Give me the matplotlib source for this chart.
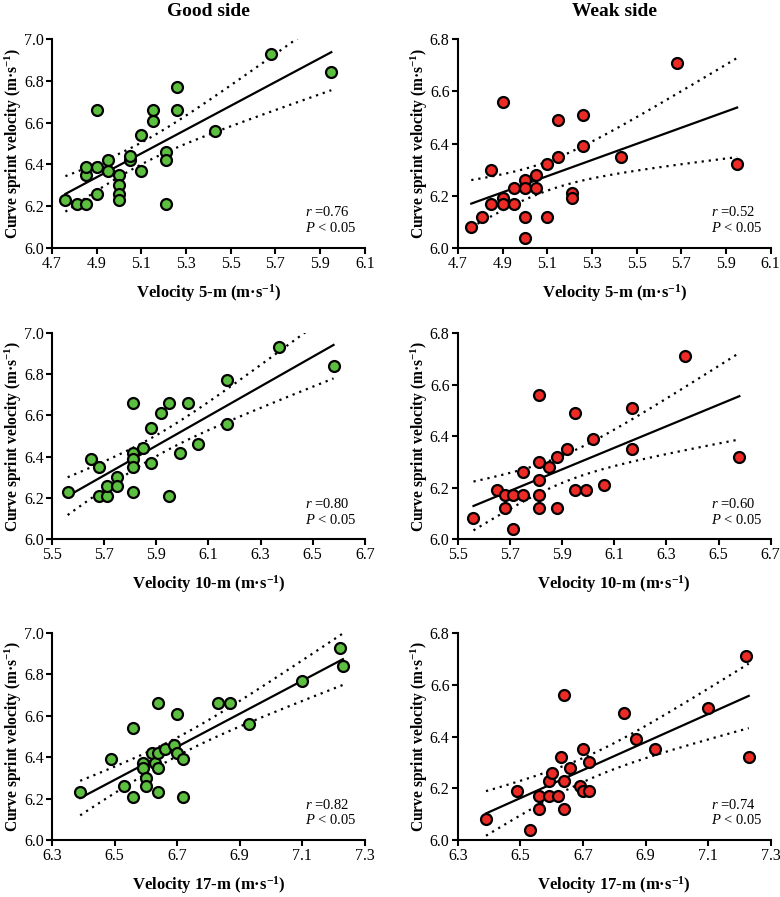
import numpy as np
import matplotlib
matplotlib.use("Agg")
import matplotlib.pyplot as plt

plt.rcParams['font.family'] = ['Liberation Serif', 'DejaVu Serif']
plt.rcParams['mathtext.fontset'] = 'custom'
plt.rcParams['mathtext.rm'] = 'Liberation Serif'
plt.rcParams['mathtext.it'] = 'Liberation Serif:italic'
plt.rcParams['mathtext.bf'] = 'Liberation Serif:bold'

GREEN = '#5cbf3f'
RED = '#ec2b26'
T95 = 2.06

# good side
good5_x = [4.76, 4.81, 4.85, 4.85, 4.85, 4.90, 4.90, 4.90, 4.95, 4.95, 5.00, 5.00, 5.00, 5.00,
           5.05, 5.05, 5.10, 5.10, 5.15, 5.15, 5.21, 5.21, 5.21, 5.26, 5.26, 5.43, 5.68, 5.95]
good5_y = [6.23, 6.21, 6.21, 6.35, 6.39, 6.26, 6.39, 6.66, 6.37, 6.42, 6.35, 6.30, 6.26, 6.23,
           6.42, 6.44, 6.37, 6.54, 6.66, 6.61, 6.46, 6.42, 6.21, 6.77, 6.66, 6.56, 6.93, 6.84]

good10_x = [5.56, 5.65, 5.68, 5.68, 5.71, 5.71, 5.75, 5.75, 5.81, 5.81, 5.81, 5.81, 5.81,
            5.85, 5.88, 5.88, 5.92, 5.95, 5.95, 5.99, 6.02, 6.06, 6.17, 6.17, 6.37, 6.58]
good10_y = [6.23, 6.39, 6.35, 6.21, 6.21, 6.26, 6.30, 6.26, 6.66, 6.42, 6.39, 6.35, 6.23,
            6.44, 6.54, 6.37, 6.61, 6.66, 6.21, 6.42, 6.66, 6.46, 6.77, 6.56, 6.93, 6.84]

good17_x = [6.39, 6.49, 6.53, 6.56, 6.56, 6.59, 6.59, 6.60, 6.60, 6.62, 6.63, 6.64, 6.64, 6.64,
            6.64, 6.66, 6.69, 6.70, 6.70, 6.72, 6.72, 6.83, 6.87, 6.93, 7.10, 7.22, 7.23]
good17_y = [6.23, 6.39, 6.26, 6.54, 6.21, 6.37, 6.35, 6.30, 6.26, 6.42, 6.37, 6.66, 6.42, 6.35,
            6.23, 6.44, 6.46, 6.61, 6.42, 6.39, 6.21, 6.66, 6.66, 6.56, 6.77, 6.93, 6.84]

# weak side
weak5_x = [4.76, 4.81, 4.85, 4.85, 4.90, 4.90, 4.90, 4.95, 4.95, 5.00, 5.00, 5.00, 5.00,
           5.05, 5.05, 5.10, 5.10, 5.15, 5.15, 5.21, 5.21, 5.26, 5.26, 5.43, 5.68, 5.95]
weak5_y = [6.08, 6.12, 6.30, 6.17, 6.56, 6.19, 6.17, 6.23, 6.17, 6.26, 6.23, 6.12, 6.04,
           6.28, 6.23, 6.32, 6.12, 6.49, 6.35, 6.21, 6.19, 6.51, 6.39, 6.35, 6.71, 6.32]

weak10_x = [5.56, 5.65, 5.68, 5.68, 5.71, 5.71, 5.75, 5.75, 5.81, 5.81, 5.81, 5.81, 5.81,
            5.85, 5.88, 5.88, 5.92, 5.95, 5.95, 5.99, 6.02, 6.06, 6.17, 6.17, 6.37, 6.58]
weak10_y = [6.08, 6.19, 6.17, 6.12, 6.17, 6.04, 6.26, 6.17, 6.56, 6.30, 6.23, 6.17, 6.12,
            6.28, 6.32, 6.12, 6.35, 6.49, 6.19, 6.19, 6.39, 6.21, 6.51, 6.35, 6.71, 6.32]

weak17_x = [6.39, 6.49, 6.53, 6.56, 6.56, 6.59, 6.59, 6.60, 6.62, 6.63, 6.64, 6.64, 6.64,
            6.66, 6.69, 6.70, 6.70, 6.72, 6.72, 6.83, 6.87, 6.93, 7.10, 7.22, 7.23]
weak17_y = [6.08, 6.19, 6.04, 6.17, 6.12, 6.23, 6.17, 6.26, 6.17, 6.32, 6.56, 6.23, 6.12,
            6.28, 6.21, 6.35, 6.19, 6.30, 6.19, 6.49, 6.39, 6.35, 6.51, 6.71, 6.32]

x_labels = ['5-m', '10-m', '17-m']
x_lims = [(4.7, 6.1), (5.5, 6.7), (6.3, 7.3)]
r_good = ['0.76', '0.80', '0.82']
r_weak = ['0.52', '0.60', '0.74']

fig = plt.figure(figsize=(7.8, 8.97), dpi=100)

# axes rectangles (figure fraction)
lefts = [0.0667, 0.587]
bottoms = [0.7235, 0.399, 0.0635]
heights = [0.233, 0.2297, 0.2308]
width = 0.401


def panel(ax, xs, ys, color, xlim, ylim, yticks, xlab, rtxt):
    xs = np.array(xs)
    ys = np.array(ys)
    b, a = np.polyfit(xs, ys, 1)
    xx = np.linspace(xs.min(), xs.max(), 100)
    yy = a + b * xx
    n = len(xs)
    resid = ys - (a + b * xs)
    s = np.sqrt(np.sum(resid ** 2) / (n - 2))
    sxx = np.sum((xs - xs.mean()) ** 2)
    ci = T95 * s * np.sqrt(1.0 / n + (xx - xs.mean()) ** 2 / sxx)
    ax.plot(xx, yy + ci, color='black', lw=1.6, ls=(0, (1, 2.2)), zorder=2)
    ax.plot(xx, yy - ci, color='black', lw=1.6, ls=(0, (1, 2.2)), zorder=2)
    ax.plot(xx, yy, color='black', lw=1.6, zorder=2)
    ax.scatter(xs, ys, s=62, color=color, edgecolor='black', linewidth=1.6, zorder=3, clip_on=False)

    ax.set_xlim(xlim)
    ax.set_ylim(ylim)
    ax.set_xticks(np.round(np.arange(xlim[0], xlim[1] + 0.01, 0.2), 1))
    ax.set_yticks(yticks)
    ax.set_xticklabels(['%.1f' % v for v in ax.get_xticks()])
    ax.set_yticklabels(['%.1f' % v for v in yticks])
    for sp in ['top', 'right']:
        ax.spines[sp].set_visible(False)
    for sp in ['left', 'bottom']:
        ax.spines[sp].set_linewidth(1.5)
    ax.tick_params(width=1.5, length=4, labelsize=11.5, pad=2)
    ax.set_xlabel('Velocity %s (m·s$^{\\mathbf{-1}}$)' % xlab, fontsize=12,
                  fontweight='bold', labelpad=7)
    ax.set_ylabel('Curve sprint velocity (m·s$^{\\mathbf{-1}}$)', fontsize=11.2,
                  fontweight='bold', labelpad=0)
    ax.text(0.81, 0.17, '$r$ =' + rtxt, transform=ax.transAxes, fontsize=10.5,
            ha='left', va='center')
    ax.text(0.81, 0.095, '$P$ < 0.05', transform=ax.transAxes, fontsize=10.5,
            ha='left', va='center')


good = [(good5_x, good5_y), (good10_x, good10_y), (good17_x, good17_y)]
weak = [(weak5_x, weak5_y), (weak10_x, weak10_y), (weak17_x, weak17_y)]

for i in range(3):
    axg = fig.add_axes([lefts[0], bottoms[i], width, heights[i]])
    panel(axg, good[i][0], good[i][1], GREEN, x_lims[i], (6.0, 7.0),
          [6.0, 6.2, 6.4, 6.6, 6.8, 7.0], x_labels[i], r_good[i])
    axw = fig.add_axes([lefts[1], bottoms[i], width, heights[i]])
    panel(axw, weak[i][0], weak[i][1], RED, x_lims[i], (6.0, 6.8),
          [6.0, 6.2, 6.4, 6.6, 6.8], x_labels[i], r_weak[i])

fig.text(lefts[0] + width / 2, 1 - 11 / 897, 'Good side', fontsize=14, fontweight='bold',
         ha='center', va='center')
fig.text(lefts[1] + width / 2, 1 - 11 / 897, 'Weak side', fontsize=14, fontweight='bold',
         ha='center', va='center')

fig.savefig('out.png', dpi=100)
